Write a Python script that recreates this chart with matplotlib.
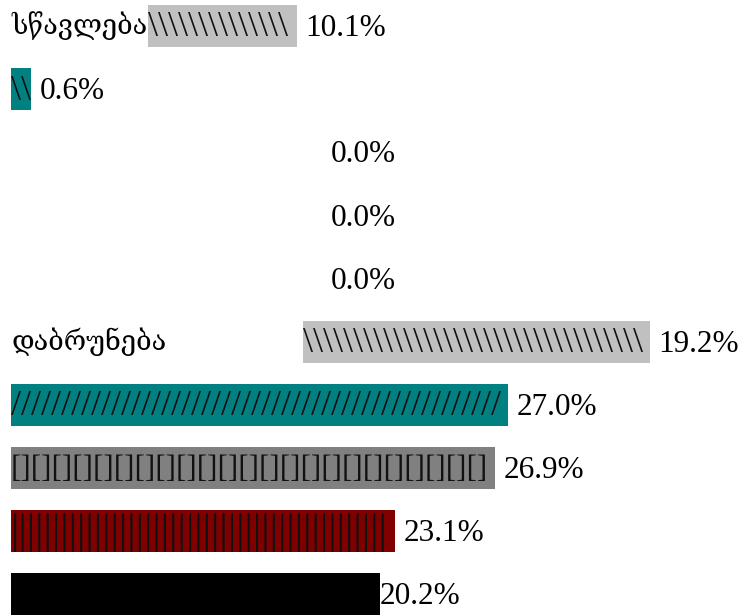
import matplotlib
matplotlib.use('Agg')
import matplotlib.pyplot as plt
from matplotlib.transforms import Bbox, TransformedBbox

# rows top to bottom
labels = ['სწავლება', '', '', '', '', 'დაბრუნება', '', '', '', '']
starts = [7.45, 0.0, 16.9, 16.9, 16.9, 15.87, 0.0, 0.0, 0.0, 0.0]
lengths = [8.1, 1.09, 0.0, 0.0, 0.0, 18.86, 27.0, 26.3, 20.87, 20.05]
value_text = ['10.1%', '0.6%', '0.0%', '0.0%', '0.0%', '19.2%', '27.0%', '26.9%', '23.1%', '20.2%']

colors = ['#c0c0c0', '#008080', '#c0c0c0', '#c0c0c0', '#c0c0c0',
          '#c0c0c0', '#008080', '#808080', '#800000', '#000000']
patterns = ['\\', '\\', '', '', '', '\\', '/', '[]', '|', '']
pattern_size = {'\\': 26, '/': 26, '[]': 22.5, '|': 30, '': 20}
label_pad = [6, 6, 6, 6, 6, 6, 6, 6, 6, 0]

serif = ['Liberation Serif', 'DejaVu Serif']
bar_h = 0.666

fig = plt.figure(figsize=(7.45, 6.15), dpi=100)
ax = fig.add_axes([0, 0, 1, 1])
ax.set_xlim(-0.6, 39.89)
ax.set_ylim(9.333, -0.412)
ax.axis('off')

rows = range(len(lengths))
bars = ax.barh(rows, lengths, left=starts, height=bar_h, color=colors)
renderer = fig.canvas.get_renderer()

for i, bar in enumerate(bars):
    if patterns[i] and lengths[i] > 0:
        t = ax.text(starts[i], i + 0.03, patterns[i], ha='left', va='center',
                    fontsize=pattern_size[patterns[i]], family=serif, color='#111111')
        unit_w = t.get_window_extent(renderer).width
        bar_w = bar.get_window_extent(renderer).width
        t.set_text(patterns[i] * max(1, int(bar_w // unit_w)))
        box = Bbox([[starts[i], i - bar_h / 2], [starts[i] + lengths[i], i + bar_h / 2]])
        t.set_clip_box(TransformedBbox(box, ax.transData))
        t.set_clip_on(True)
    if labels[i]:
        ax.text(0, i, labels[i], ha='left', va='center', fontsize=19.5, family=serif)
    ax.annotate(value_text[i], (starts[i] + lengths[i], i), xytext=(label_pad[i], -2),
                textcoords='offset points', ha='left', va='center',
                fontsize=22.5, family=serif)

fig.savefig('out.png', dpi=100)
